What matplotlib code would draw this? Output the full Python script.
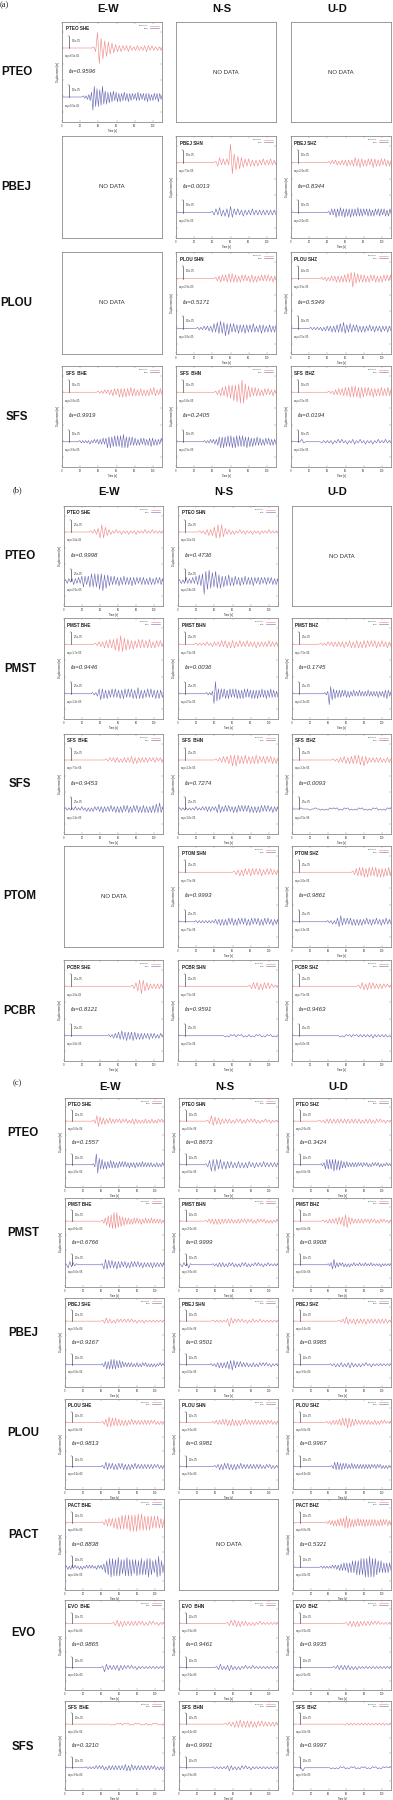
import numpy as np
import matplotlib
matplotlib.use("Agg")
import matplotlib.pyplot as plt

W, H = 393, 1800
plt.rcParams['font.family'] = ['Liberation Sans', 'DejaVu Sans']

components = ["E-W", "N-S", "U-D"]
section_labels = ["(a)", "(b)", "(c)"]

# ---------------- (a) ----------------
a_stations = ["PTEO", "PBEJ", "PLOU", "SFS"]
a_channels = [["PTEO SHE", None, None],
              [None, "PBEJ SHN", "PBEJ SHZ"],
              [None, "PLOU SHN", "PLOU SHZ"],
              ["SFS  BHE", "SFS  BHN", "SFS  BHZ"]]
a_fa = [[0.9596, None, None],
        [None, 0.0013, 0.8344],
        [None, 0.5171, 0.5349],
        [0.9919, 0.2405, 0.0194]]
a_scale = 5.0e-05
# trace: (onset time [s], half period [s], half-cycle peak amplitudes in tenths of scale bar)
a_syn = {
    "PTEO SHE": (33, 2.0, [1, 3, 13, 13, 8, 9, 6, 7, 5, 5, 4, 4, 3, 3, 2, 3, 2, 2, 2, 3, 2, 2, 1, 2, 2, 2, 1, 2, 2, 3, 2, 2, 2, 2, 1, 2, 1, 2]),
    "PBEJ SHN": (42, 2.0, [1, 3, 4, 2, 3, 2, 3, 2, 15, 9, 7, 6, 5, 5, 4, 4, 3, 3, 3, 3, 2, 3, 2, 3, 2, 2, 3, 2, 2, 2, 3, 2, 2, 2]),
    "PBEJ SHZ": (40, 1.8, [1, 1, 2, 1, 2, 2, 1, 2, 2, 2, 2, 3, 2, 2, 2, 3, 4, 3, 3, 4, 3, 3, 2, 3, 3, 2, 3, 4, 3, 3, 2, 3, 3, 2, 3, 3, 2, 3, 2]),
    "PLOU SHN": (42, 1.8, [1, 2, 2, 3, 3, 2, 3, 3, 4, 3, 4, 3, 3, 3, 2, 3, 3, 2, 3, 2, 2, 3, 3, 3, 2, 3, 2, 2, 3, 2, 3, 2, 3, 2, 2, 3, 2, 2]),
    "PLOU SHZ": (32, 1.8, [1, 1, 1, 2, 1, 2, 2, 2, 2, 3, 2, 3, 2, 3, 3, 3, 4, 3, 5, 7, 5, 4, 4, 3, 3, 3, 3, 3, 2, 3, 3, 2, 3, 3, 2, 3, 2, 3, 3, 2, 3, 2, 3]),
    "SFS  BHE": (38, 1.8, [1, 1, 1, 1, 2, 1, 2, 2, 2, 3, 3, 2, 3, 4, 3, 4, 3, 4, 3, 3, 4, 3, 3, 3, 2, 3, 3, 3, 2, 3, 2, 3, 3, 2, 4, 3, 2, 2, 3, 2]),
    "SFS  BHN": (42, 1.8, [1, 2, 2, 3, 4, 3, 5, 4, 6, 5, 6, 7, 6, 8, 7, 9, 10, 9, 7, 6, 5, 4, 4, 3, 4, 3, 3, 3, 2, 3, 3, 2, 3, 2, 2, 3, 2, 2]),
    "SFS  BHZ": (40, 1.8, [1, 1, 1, 2, 2, 2, 3, 2, 3, 3, 4, 3, 4, 4, 5, 4, 5, 4, 4, 5, 4, 4, 4, 3, 4, 3, 3, 4, 3, 3, 3, 3, 4, 3, 3, 3, 4, 3, 3]),
}
a_obs = {
    "PTEO SHE": (22, 1.5, [1, 1, 1, 2, 2, 3, 4, 11, 9, 8, 7, 8, 6, 7, 9, 6, 5, 6, 4, 5, 4, 4, 5, 3, 4, 4, 3, 4, 3, 3, 4, 3, 3, 4, 3, 3, 3, 2, 3, 3, 4, 3, 3, 2, 3, 3, 3, 4, 3, 3, 2, 3, 3, 2, 3, 4, 3, 2, 2]),
    "PBEJ SHN": (38, 2.0, [1, 2, 3, 2, 4, 3, 2, 3, 3, 4, 5, 4, 3, 2, 3, 2, 2, 3, 2, 2, 2, 2, 3, 2, 2, 2, 2, 2, 2, 2, 2, 2, 2, 2, 2, 2]),
    "PBEJ SHZ": (40, 1.6, [1, 2, 3, 2, 3, 4, 3, 3, 4, 3, 3, 4, 3, 3, 3, 4, 3, 3, 3, 3, 4, 3, 3, 3, 3, 2, 3, 3, 3, 3, 2, 3, 3, 2, 3, 3, 3, 2, 3, 3, 2, 3, 3, 2]),
    "PLOU SHN": (22, 1.8, [1, 1, 1, 1, 2, 1, 2, 2, 2, 3, 4, 3, 5, 4, 6, 4, 5, 6, 4, 5, 4, 3, 4, 3, 3, 4, 3, 3, 3, 4, 3, 3, 3, 3, 4, 3, 2, 3, 3, 4, 3, 3, 2, 3, 3, 3, 2, 3, 3]),
    "PLOU SHZ": (20, 1.8, [1, 1, 1, 1, 1, 1, 1, 2, 1, 2, 2, 2, 2, 3, 2, 3, 3, 3, 4, 3, 5, 4, 3, 3, 4, 3, 3, 2, 3, 3, 2, 3, 2, 3, 2, 2, 3, 2, 2, 3, 2, 2, 2, 3, 2, 2, 2, 3, 2, 2]),
    "SFS  BHE": (18, 1.6, [1, 1, 1, 1, 1, 1, 1, 2, 1, 1, 2, 1, 2, 2, 2, 2, 3, 2, 3, 5, 4, 5, 4, 4, 5, 4, 5, 4, 5, 5, 6, 5, 4, 5, 4, 3, 4, 3, 3, 3, 2, 3, 3, 2, 3, 3, 2, 3, 3, 4, 3, 3, 2, 3, 2, 2, 3, 2]),
    "SFS  BHN": (30, 1.6, [1, 1, 1, 1, 2, 1, 2, 2, 2, 3, 4, 5, 4, 5, 4, 4, 5, 4, 5, 5, 4, 5, 5, 4, 5, 4, 5, 4, 4, 5, 4, 4, 3, 4, 3, 3, 4, 3, 3, 3, 2, 3, 3, 2, 3, 3, 2, 3, 2, 2]),
    "SFS  BHZ": (10, 2.0, [2, 1, 0, 0, 0, 0, 0, 0, 0, 0, 0, 1, 1, 1, 1, 1, 1, 2, 1, 1, 2, 1, 2, 1, 1, 2, 1, 1, 2, 2, 1, 1, 2, 1, 1, 2, 1, 1, 1, 2, 1, 1, 2, 1, 1, 1, 2, 1, 1, 1]),
}

# ---------------- (b) ----------------
b_stations = ["PTEO", "PMST", "SFS", "PTOM", "PCBR"]
b_channels = [["PTEO SHE", "PTEO SHN", None],
              ["PMST BHE", "PMST BHN", "PMST BHZ"],
              ["SFS  BHE", "SFS  BHN", "SFS  BHZ"],
              [None, "PTOM SHN", "PTOM SHZ"],
              ["PCBR SHE", "PCBR SHN", "PCBR SHZ"]]
b_fa = [[0.9998, 0.4736, None],
        [0.9446, 0.0036, 0.1745],
        [0.9453, 0.7274, 0.0093],
        [None, 0.9993, 0.9861],
        [0.8121, 0.9591, 0.9463]]
b_scale = 2.5e-05
b_syn = {
    "PTEO SHE": (28, 2.0, [1, 1, 2, 2, 3, 5, 6, 5, 4, 3, 2, 2, 1, 1, 2, 1, 1, 2, 1, 1, 1, 2, 1, 1, 1, 2, 1, 1, 1, 1, 2, 1, 1, 1, 2, 1, 1, 1, 1, 1, 1, 1]),
    "PTEO SHN": (22, 2.0, [1, 1, 1, 2, 2, 3, 2, 3, 4, 5, 6, 5, 6, 4, 3, 2, 2, 2, 1, 2, 1, 1, 2, 1, 1, 2, 1, 1, 1, 2, 1, 1, 1, 2, 1, 1, 1, 1, 2, 1, 1, 1, 1, 1]),
    "PMST BHE": (33, 2.0, [1, 1, 2, 2, 2, 3, 3, 3, 4, 3, 4, 5, 5, 6, 7, 6, 5, 5, 4, 4, 3, 4, 3, 3, 4, 3, 4, 3, 3, 3, 4, 3, 2, 3, 3, 2, 3, 2, 2]),
    "PMST BHN": (18, 2.0, [1, 1, 1, 1, 1, 1, 2, 1, 1, 2, 2, 1, 2, 2, 3, 2, 3, 3, 2, 3, 3, 3, 2, 2, 3, 2, 2, 2, 3, 2, 2, 2, 2, 3, 2, 2, 2, 2, 2, 2, 3, 2, 2, 2, 2, 2]),
    "PMST BHZ": (30, 2.0, [1, 1, 1, 1, 2, 1, 2, 2, 2, 2, 2, 2, 2, 3, 2, 2, 3, 3, 2, 3, 3, 3, 2, 3, 3, 3, 3, 2, 3, 2, 3, 3, 2, 2, 3, 2, 2, 3, 2, 2]),
    "SFS  BHE": (45, 2.0, [1, 1, 2, 1, 2, 2, 2, 2, 1, 2, 2, 2, 2, 2, 3, 3, 2, 3, 2, 2, 2, 2, 2, 2, 2, 1, 2, 2, 2, 1, 2, 2, 2]),
    "SFS  BHN": (40, 2.0, [1, 1, 2, 2, 3, 2, 3, 3, 4, 5, 4, 5, 4, 3, 3, 3, 4, 3, 3, 3, 3, 3, 4, 3, 3, 2, 3, 3, 3, 2, 3, 3, 2, 3, 2, 2]),
    "SFS  BHZ": (44, 2.0, [1, 1, 1, 2, 2, 2, 3, 3, 2, 3, 3, 3, 4, 3, 4, 4, 3, 5, 3, 3, 2, 2, 2, 2, 2, 2, 2, 2, 1, 2, 2, 2, 1]),
    "PTOM SHN": (60, 2.0, [1, 2, 2, 3, 2, 3, 3, 2, 3, 3, 3, 2, 3, 2, 3, 3, 2, 2, 3, 2, 3, 2, 2, 2, 2]),
    "PTOM SHZ": (66, 1.8, [1, 2, 3, 3, 4, 3, 4, 4, 3, 4, 4, 3, 4, 3, 4, 4, 3, 4, 3, 4, 3, 3, 4, 3]),
    "PCBR SHE": (74, 2.0, [1, 2, 3, 4, 5, 6, 5, 4, 3, 3, 2, 2, 2, 2, 2, 2, 2, 2]),
    "PCBR SHN": (77, 2.0, [1, 2, 3, 2, 3, 3, 2, 3, 3, 2, 3, 2, 2, 1, 1, 1, 1]),
    "PCBR SHZ": (72, 2.0, [1, 2, 3, 3, 2, 3, 3, 2, 3, 2, 2, 2, 2, 2, 2, 1, 2, 1, 1]),
}
b_obs = {
    "PTEO SHE": (0, 1.8, [1, 2, 2, 1, 2, 3, 2, 2, 3, 2, 4, 5, 4, 3, 4, 5, 6, 5, 6, 5, 6, 7, 6, 8, 5, 6, 5, 4, 4, 3, 4, 3, 3, 4, 3, 3, 4, 3, 3, 3, 3, 4, 3, 3, 3, 2, 3, 3, 3, 3, 2, 3, 3, 3, 2, 3, 3, 2, 3, 3, 2]),
    "PTEO SHN": (0, 1.8, [1, 2, 1, 2, 3, 2, 2, 2, 3, 2, 4, 3, 5, 4, 6, 11, 8, 7, 9, 6, 7, 5, 8, 6, 5, 6, 4, 5, 4, 4, 5, 4, 3, 4, 4, 3, 3, 4, 3, 3, 4, 3, 3, 3, 3, 4, 3, 2, 3, 3, 3, 2, 3, 3, 3, 2, 3, 3, 2, 3, 2]),
    "PMST BHE": (30, 1.8, [1, 1, 1, 2, 4, 5, 4, 4, 3, 4, 3, 3, 4, 3, 4, 3, 3, 4, 3, 4, 4, 3, 4, 3, 4, 4, 3, 4, 5, 4, 3, 4, 3, 3, 4, 3, 4, 3, 3, 4, 3, 4, 3, 3, 2]),
    "PMST BHN": (30, 1.6, [1, 1, 1, 1, 2, 8, 10, 6, 4, 5, 4, 3, 4, 4, 3, 4, 4, 3, 4, 3, 4, 4, 3, 4, 3, 4, 4, 3, 4, 3, 3, 4, 3, 4, 3, 4, 3, 3, 4, 3, 3, 4, 3, 3, 4, 3, 3, 3, 2, 3]),
    "PMST BHZ": (35, 1.6, [1, 1, 2, 9, 6, 5, 4, 4, 3, 3, 3, 3, 3, 2, 3, 3, 2, 3, 2, 2, 3, 2, 2, 2, 3, 2, 2, 2, 2, 2, 3, 2, 2, 2, 2, 2, 2, 3, 2, 2, 2, 3, 3, 4, 3, 2, 2]),
    "SFS  BHE": (0, 1.8, [1, 1, 1, 1, 1, 1, 2, 1, 1, 1, 2, 1, 1, 2, 1, 2, 1, 2, 2, 1, 2, 2, 2, 3, 2, 2, 2, 2, 3, 2, 2, 3, 2, 3, 2, 3, 3, 2, 3, 3, 2, 3, 3, 2, 3, 3, 2, 3, 3, 3, 2, 3, 2, 3, 3, 3, 4, 3, 5, 3, 2]),
    "SFS  BHN": (0, 1.8, [1, 1, 1, 1, 1, 1, 1, 1, 1, 1, 2, 1, 1, 1, 2, 1, 2, 2, 2, 2, 2, 1, 2, 3, 4, 3, 2, 2, 3, 2, 3, 2, 2, 3, 2, 3, 3, 2, 3, 2, 3, 2, 3, 3, 2, 3, 2, 3, 2, 3, 3, 2, 3, 2, 3, 2, 2, 3, 2, 2, 2]),
    "SFS  BHZ": (0, 2.0, [0, 0, 0, 0, 1, 0, 0, 0, 0, 1, 0, 0, 1, 0, 0, 1, 0, 1, 0, 1, 1, 0, 1, 0, 1, 1, 0, 1, 1, 0, 1, 1, 0, 1, 0, 1, 1, 0, 1, 1, 0, 1, 0, 1, 1, 0, 1, 1, 0, 1, 0, 1, 1, 0, 1]),
    "PTOM SHN": (18, 1.8, [1, 1, 1, 1, 1, 1, 1, 1, 1, 1, 1, 1, 2, 2, 2, 3, 2, 3, 2, 3, 3, 2, 3, 3, 2, 3, 3, 2, 3, 2, 3, 3, 2, 3, 3, 2, 3, 2, 3, 3, 2, 3, 3, 2, 3, 2, 2, 3, 2, 2, 2]),
    "PTOM SHZ": (38, 1.8, [1, 1, 1, 2, 1, 2, 3, 4, 5, 3, 3, 2, 3, 2, 3, 3, 2, 3, 2, 3, 2, 3, 2, 2, 3, 2, 2, 3, 2, 2, 3, 2, 2, 3, 2, 2, 3, 2, 2, 2]),
    "PCBR SHE": (48, 1.8, [1, 1, 1, 2, 2, 2, 3, 3, 4, 3, 3, 4, 3, 3, 3, 4, 3, 3, 2, 3, 2, 3, 2, 2, 2, 3, 2, 2, 2, 2, 1, 2, 2, 1, 2]),
    "PCBR SHN": (48, 2.0, [0, 1, 0, 1, 1, 0, 1, 1, 1, 0, 1, 1, 0, 1, 1, 1, 0, 1, 1, 0, 1, 1, 0, 1, 1, 0, 1, 1, 0, 1, 0]),
    "PCBR SHZ": (50, 2.0, [0, 1, 0, 1, 1, 0, 1, 1, 1, 0, 1, 1, 1, 1, 1, 1, 1, 1, 1, 2, 1, 1, 1, 1, 1, 1, 1, 1, 0, 1]),
}

# ---------------- (c) ----------------
c_stations = ["PTEO", "PMST", "PBEJ", "PLOU", "PACT", "EVO", "SFS"]
c_channels = [["PTEO SHE", "PTEO SHN", "PTEO SHZ"],
              ["PMST BHE", "PMST BHN", "PMST BHZ"],
              ["PBEJ SHE", "PBEJ SHN", "PBEJ SHZ"],
              ["PLOU SHE", "PLOU SHN", "PLOU SHZ"],
              ["PACT BHE", None, "PACT BHZ"],
              ["EVO  BHE", "EVO  BHN", "EVO  BHZ"],
              ["SFS  BHE", "SFS  BHN", "SFS  BHZ"]]
c_fa = [[0.1557, 0.8673, 0.3424],
        [0.6766, 0.9999, 0.9908],
        [0.9167, 0.9501, 0.9985],
        [0.9813, 0.9981, 0.9967],
        [0.8838, None, 0.5321],
        [0.9865, 0.9461, 0.9935],
        [0.3210, 0.9991, 0.9997]]
c_scale = 1.0e-05
c_syn = {
    "PTEO SHE": (30, 1.8, [1, 2, 5, 5, 4, 3, 3, 3, 2, 2, 3, 2, 2, 2, 2, 1, 2, 2, 2, 1, 2, 2, 1, 2, 2, 3, 2, 2, 1, 2, 1, 2, 2, 2, 1, 2, 2, 2, 1, 2, 2, 1, 2, 1, 1]),
    "PTEO SHN": (30, 2.0, [1, 2, 5, 4, 4, 3, 3, 3, 2, 2, 2, 2, 2, 2, 1, 2, 2, 1, 2, 2, 1, 2, 2, 1, 2, 1, 2, 2, 1, 2, 1, 1, 2, 1, 1, 2, 1, 1, 1, 1]),
    "PTEO SHZ": (28, 2.0, [1, 1, 1, 2, 2, 2, 2, 2, 2, 2, 2, 2, 2, 2, 2, 2, 2, 2, 2, 2, 2, 2, 2, 2, 1, 2, 2, 2, 2, 2, 1, 2, 2, 1, 2, 1, 1, 2, 1, 1, 1]),
    "PMST BHE": (40, 1.6, [1, 2, 3, 4, 5, 6, 6, 7, 8, 7, 8, 6, 5, 5, 4, 4, 3, 3, 3, 3, 2, 3, 3, 2, 3, 2, 2, 3, 2, 2, 3, 2, 2, 2, 3, 2, 2, 2, 2, 2, 2, 2, 1, 2]),
    "PMST BHN": (28, 1.8, [1, 1, 2, 2, 2, 3, 2, 3, 2, 3, 2, 2, 2, 2, 2, 2, 2, 2, 1, 2, 2, 2, 2, 1, 2, 2, 2, 1, 2, 2, 1, 2, 2, 1, 2, 1, 2, 2, 1, 2, 1, 2, 1, 1, 2, 1]),
    "PMST BHZ": (32, 1.8, [1, 1, 1, 2, 2, 2, 2, 2, 3, 3, 4, 3, 4, 5, 6, 6, 4, 3, 3, 2, 2, 2, 2, 2, 2, 2, 2, 1, 2, 2, 2, 1, 2, 2, 1, 2, 2, 1, 2, 1, 1, 2, 1, 1]),
    "PBEJ SHE": (40, 2.0, [1, 2, 3, 2, 2, 2, 1, 2, 2, 1, 2, 1, 2, 1, 2, 1, 2, 1, 1, 2, 1, 1, 1, 2, 1, 1, 1, 1, 1, 1, 1, 1, 1, 1, 1]),
    "PBEJ SHN": (36, 2.0, [1, 1, 1, 1, 1, 1, 1, 1, 2, 5, 3, 2, 2, 1, 2, 1, 2, 1, 1, 2, 1, 1, 2, 1, 1, 1, 2, 1, 1, 1, 1, 1, 1, 1, 1, 1, 1]),
    "PBEJ SHZ": (50, 2.0, [1, 1, 2, 2, 4, 3, 2, 2, 2, 3, 2, 2, 2, 2, 2, 3, 2, 2, 2, 2, 2, 2, 2, 2, 2, 2, 2, 2, 1, 1]),
    "PLOU SHE": (40, 1.8, [1, 2, 3, 4, 5, 4, 4, 3, 4, 3, 3, 3, 2, 3, 2, 3, 2, 2, 3, 2, 2, 2, 2, 2, 2, 2, 2, 2, 2, 2, 2, 1, 2, 2, 1, 2, 1, 2, 1]),
    "PLOU SHN": (36, 1.8, [1, 1, 2, 2, 2, 2, 3, 2, 3, 3, 2, 3, 3, 3, 2, 3, 2, 3, 2, 2, 3, 2, 2, 2, 2, 2, 2, 2, 2, 2, 2, 2, 2, 2, 2, 1, 2, 2, 1, 2, 1]),
    "PLOU SHZ": (36, 1.8, [1, 1, 1, 2, 2, 2, 2, 2, 3, 3, 4, 3, 4, 5, 4, 4, 3, 3, 3, 2, 2, 2, 2, 2, 2, 2, 2, 2, 1, 2, 2, 2, 1, 2, 2, 1, 2, 1, 1, 1, 1]),
    "PACT BHE": (40, 1.8, [1, 2, 3, 3, 4, 3, 4, 5, 4, 6, 5, 6, 7, 6, 7, 6, 7, 8, 7, 8, 7, 8, 8, 7, 8, 7, 6, 7, 6, 7, 6, 5, 6, 5, 6, 5, 4, 5, 4]),
    "PACT BHZ": (36, 1.6, [1, 1, 2, 2, 2, 3, 2, 3, 3, 3, 4, 3, 4, 5, 6, 5, 4, 4, 3, 4, 3, 3, 4, 3, 3, 3, 3, 4, 3, 3, 3, 3, 3, 3, 3, 3, 2, 3, 3, 3, 3, 2, 3, 3, 2, 2]),
    "EVO  BHE": (52, 2.0, [1, 2, 3, 3, 2, 3, 2, 2, 2, 2, 2, 2, 2, 2, 2, 1, 2, 2, 1, 2, 2, 1, 2, 1, 1, 2, 1, 1, 1]),
    "EVO  BHN": (52, 2.0, [1, 2, 3, 2, 3, 3, 2, 3, 2, 2, 2, 2, 1, 2, 1, 2, 1, 1, 2, 1, 1, 1, 1, 1, 1, 1, 1, 1, 1]),
    "EVO  BHZ": (58, 2.0, [1, 2, 2, 3, 2, 3, 2, 3, 2, 2, 2, 2, 2, 2, 2, 1, 2, 1, 2, 1, 1, 1, 1, 1, 1, 1]),
    "SFS  BHE": (48, 2.0, [0, 1, 0, 1, 1, 0, 1, 1, 1, 0, 1, 1, 0, 1, 1, 0, 1, 1, 0, 1, 1, 1, 0, 1, 1, 0, 1, 1, 0, 1, 0]),
    "SFS  BHN": (50, 2.0, [1, 1, 2, 2, 2, 3, 3, 3, 4, 3, 3, 3, 3, 3, 3, 3, 2, 3, 3, 2, 3, 2, 2, 2, 2, 2, 2, 2, 2, 1]),
    "SFS  BHZ": (55, 2.0, [0, 1, 1, 1, 1, 1, 1, 1, 1, 1, 1, 1, 1, 1, 1, 1, 1, 1, 1, 1, 1, 1, 1, 1, 1, 1, 1, 1]),
}
c_obs = {
    "PTEO SHE": (30, 1.6, [1, 2, 10, 8, 6, 4, 5, 4, 3, 4, 3, 3, 4, 3, 3, 3, 2, 3, 3, 2, 3, 2, 3, 2, 2, 3, 2, 2, 2, 3, 2, 2, 2, 2, 3, 2, 2, 2, 2, 2, 2, 2, 1, 2, 2, 2, 1, 2, 2, 1]),
    "PTEO SHN": (28, 2.0, [1, 2, 4, 6, 5, 6, 5, 4, 5, 4, 3, 4, 3, 3, 3, 3, 2, 3, 3, 3, 2, 3, 2, 3, 3, 2, 2, 3, 2, 2, 2, 2, 3, 2, 2, 2, 2, 2, 2, 2, 2]),
    "PTEO SHZ": (30, 1.6, [1, 1, 2, 4, 5, 4, 5, 4, 5, 6, 5, 5, 4, 5, 4, 3, 3, 3, 3, 2, 2, 2, 2, 2, 2, 2, 2, 1, 2, 2, 2, 1, 2, 2, 1, 2, 2, 1, 2, 1, 2, 2, 1, 2, 1, 1, 2, 1, 1, 1]),
    "PMST BHE": (0, 1.8, [0, 3, 3, 2, 2, 1, 1, 0, 0, 0, 0, 0, 0, 0, 0, 0, 0, 0, 0, 0, 0, 0, 1, 4, 5, 4, 4, 3, 4, 3, 3, 4, 3, 3, 3, 2, 3, 3, 2, 3, 3, 2, 3, 2, 3, 2, 2, 3, 2, 2, 2, 2, 2, 3, 2, 2, 2, 2, 2, 2, 2]),
    "PMST BHN": (0, 1.8, [0, 2, 2, 1, 1, 3, 1, 0, 0, 0, 0, 0, 0, 0, 0, 0, 0, 0, 0, 0, 1, 1, 1, 2, 2, 2, 2, 2, 1, 2, 2, 1, 2, 2, 1, 2, 1, 2, 2, 1, 2, 2, 1, 2, 1, 1, 2, 1, 2, 1, 1, 2, 1, 1, 2, 1, 1, 1, 1, 1, 1]),
    "PMST BHZ": (38, 1.6, [1, 1, 2, 4, 5, 3, 2, 2, 2, 1, 2, 2, 1, 2, 1, 2, 1, 1, 2, 1, 1, 1, 2, 1, 1, 1, 2, 1, 1, 1, 2, 1, 1, 1, 1, 1, 1, 2, 1, 1, 1, 1, 1, 1, 1]),
    "PBEJ SHE": (40, 1.6, [1, 2, 3, 4, 3, 4, 5, 4, 5, 4, 4, 3, 4, 3, 3, 2, 2, 2, 2, 2, 2, 2, 1, 2, 2, 2, 1, 2, 2, 1, 2, 2, 1, 2, 1, 2, 1, 2, 1, 1, 2, 1, 1, 1]),
    "PBEJ SHN": (34, 1.8, [1, 1, 1, 2, 2, 3, 2, 3, 2, 3, 3, 4, 4, 5, 4, 3, 3, 2, 3, 2, 2, 2, 2, 2, 1, 2, 2, 2, 1, 2, 2, 1, 2, 1, 2, 1, 1, 2, 1, 1, 1, 1]),
    "PBEJ SHZ": (40, 2.0, [1, 1, 1, 2, 1, 2, 2, 2, 1, 2, 2, 3, 2, 2, 1, 2, 1, 2, 1, 1, 2, 1, 1, 2, 1, 1, 1, 1, 1, 1, 1, 1, 1, 1, 1]),
    "PLOU SHE": (40, 1.8, [1, 2, 4, 3, 3, 2, 3, 3, 2, 3, 3, 2, 3, 3, 2, 3, 2, 3, 2, 2, 3, 2, 2, 2, 2, 2, 2, 2, 2, 2, 2, 2, 2, 1, 2, 2, 1, 2, 1]),
    "PLOU SHN": (38, 1.8, [1, 1, 2, 3, 2, 3, 3, 2, 3, 3, 2, 3, 2, 3, 2, 2, 3, 2, 2, 2, 2, 2, 2, 2, 2, 2, 2, 2, 2, 2, 1, 2, 2, 1, 2, 2, 1, 2, 1, 1]),
    "PLOU SHZ": (42, 1.6, [1, 2, 4, 3, 4, 3, 3, 3, 3, 2, 3, 2, 2, 2, 3, 2, 2, 2, 2, 2, 2, 2, 2, 2, 2, 2, 2, 2, 2, 1, 2, 2, 2, 1, 2, 2, 1, 2, 1, 2, 1, 1, 1]),
    "PACT BHE": (0, 1.6, [1, 2, 1, 2, 2, 1, 2, 1, 1, 2, 1, 2, 1, 1, 2, 1, 2, 1, 2, 1, 1, 2, 2, 1, 2, 2, 3, 5, 6, 7, 8, 9, 8, 8, 7, 8, 9, 8, 7, 6, 7, 8, 9, 8, 7, 8, 7, 6, 7, 8, 6, 7, 8, 7, 6, 7, 8, 9, 8, 7, 6, 5, 7, 9, 10, 8, 6, 5, 4]),
    "PACT BHZ": (30, 1.6, [1, 1, 1, 1, 1, 1, 1, 1, 2, 1, 2, 2, 2, 3, 3, 3, 4, 3, 4, 5, 4, 5, 6, 5, 6, 7, 6, 7, 8, 7, 8, 9, 8, 9, 10, 9, 8, 9, 8, 7, 6, 5, 6, 5, 4, 5, 4, 5, 4, 3]),
    "EVO  BHE": (40, 2.0, [1, 4, 3, 2, 2, 2, 2, 2, 2, 3, 2, 2, 2, 1, 2, 1, 2, 1, 1, 2, 1, 1, 1, 1, 1, 1, 1, 1, 1, 1, 1, 1, 1, 1, 1]),
    "EVO  BHN": (40, 2.0, [1, 2, 3, 2, 1, 2, 2, 3, 2, 2, 1, 2, 1, 2, 1, 1, 2, 1, 1, 1, 2, 1, 1, 1, 1, 1, 1, 1, 1, 1, 1, 1, 1, 1, 1]),
    "EVO  BHZ": (44, 2.0, [1, 1, 2, 2, 2, 2, 2, 2, 2, 2, 1, 2, 1, 2, 1, 1, 1, 1, 1, 1, 1, 1, 1, 1, 1, 1, 1, 1, 1, 1, 1, 1, 1]),
    "SFS  BHE": (22, 1.8, [1, 1, 1, 1, 1, 1, 2, 1, 2, 1, 2, 2, 1, 2, 2, 2, 2, 2, 2, 2, 2, 2, 2, 2, 3, 3, 2, 3, 3, 2, 2, 2, 2, 2, 2, 2, 2, 2, 2, 2, 2, 1, 2, 2, 1, 2, 1, 2, 1]),
    "SFS  BHN": (36, 2.0, [1, 1, 1, 1, 1, 1, 1, 1, 2, 3, 2, 2, 1, 2, 1, 2, 2, 1, 2, 1, 1, 2, 1, 1, 1, 1, 1, 1, 1, 1, 1, 1, 1, 1, 1, 1, 1]),
    "SFS  BHZ": (7, 2.0, [0, 3, 0, 0, 0, 0, 0, 0, 0, 0, 0, 0, 0, 0, 0, 0, 0, 1, 0, 1, 0, 1, 1, 0, 1, 1, 0, 1, 1, 0, 1, 1, 0, 1, 1, 0, 1, 1, 0, 1, 1, 0, 1, 1, 0, 1, 1, 0, 1, 0, 1, 0]),
}

# ---------------- layout (pixels, top-left origin) ----------------
a_cols = [(62, 162), (176, 276), (291, 391)]
a_rows = [(22, 122), (136, 238), (252, 354), (366, 467)]
b_cols = [(64, 163), (178, 278), (292, 391)]
b_rows = [(506, 606), (618, 719), (734, 834), (846, 947), (960, 1061)]
c_cols = [(65, 164), (179, 278), (293, 391)]
c_rows = [(1098, 1187), (1198, 1287), (1298, 1387), (1399, 1489), (1499, 1590), (1600, 1690), (1701, 1790)]

RED = '#f08888'
BLUE = '#6868b4'
EDGE = '#8c8c8c'
TXT = '#333333'
BAR = 0.12
TMAX = 110

fig = plt.figure(figsize=(W / 100, H / 100), dpi=100)


def rect(x0, y0, x1, y1):
    return [x0 / W, 1 - y1 / H, (x1 - x0) / W, (y1 - y0) / H]


def fig_text(x, y, s, **kw):
    fig.text(x / W, 1 - y / H, s, **kw)


def style_box(ax):
    for sp in ax.spines.values():
        sp.set_color(EDGE)
        sp.set_linewidth(0.6)


def draw_trace(ax, trace, base, color, scale):
    t0, dt, vals = trace
    t = [0, t0]
    y = [base, base]
    for k, v in enumerate(vals):
        t.append(t0 + dt * (k + 1))
        y.append(base + (1 if k % 2 == 0 else -1) * v / 10 * BAR)
    if t[-1] < TMAX:
        t.append(TMAX)
        y.append(base)
    ax.plot(t, y, color=color, lw=0.42)
    ax.plot([7.5, 7.5], [base, base + BAR], color='#222222', lw=0.4)
    ax.plot([6.8, 8.2], [base + BAR, base + BAR], color='#222222', lw=0.3)
    ax.text(10.5, base + BAR * 0.62, f"{scale:.1e}", fontsize=1.9, color=TXT, va='center')
    amp = max(vals) / 10 * scale
    ax.text(3.5, base - 0.085, f"amp={amp:.1e}", fontsize=1.9, color=TXT, va='center')


def draw_panel(r, title, fa, syn, obs, scale):
    ax = fig.add_axes(r)
    style_box(ax)
    ax.set_xlim(0, TMAX)
    ax.set_ylim(0, 1)
    if title is None:
        ax.set_xticks([])
        ax.set_yticks([])
        ax.text(0.5, 0.5, "NO DATA", transform=ax.transAxes, ha='center', va='center',
                fontsize=4.3, color=TXT)
        return
    ax.set_xticks([0, 20, 40, 60, 80, 100])
    ax.set_yticks([0.1, 0.26, 0.42, 0.58, 0.74, 0.9])
    ax.tick_params(direction='in', length=1.2, width=0.3, colors=EDGE, labelsize=1.8,
                   labelcolor=TXT, pad=1.2, top=True, right=True, labelleft=False)
    ax.set_xlabel("Time [s]", fontsize=1.9, color=TXT, labelpad=0.8)
    ax.set_ylabel("Displacement [m]", fontsize=1.9, color=TXT, labelpad=1.5)
    draw_trace(ax, syn, 0.74, RED, scale)
    draw_trace(ax, obs, 0.25, BLUE, scale)
    ax.text(0.035, 0.93, title, transform=ax.transAxes, fontsize=3.3, fontweight='bold',
            color='#222222', va='center', ha='left')
    ax.text(0.07, 0.505, f"fa={fa:.4f}", transform=ax.transAxes, fontsize=4.4,
            style='italic', color=TXT, va='center', ha='left')
    # legend
    ax.text(0.86, 0.965, "synthetic", transform=ax.transAxes, fontsize=1.6, color=TXT,
            ha='right', va='center')
    ax.text(0.86, 0.94, "data", transform=ax.transAxes, fontsize=1.6, color=TXT,
            ha='right', va='center')
    ax.plot([0.88, 0.97], [0.965, 0.965], transform=ax.transAxes, color=RED, lw=0.4)
    ax.plot([0.88, 0.97], [0.94, 0.94], transform=ax.transAxes, color=BLUE, lw=0.4)


sections = [
    (a_stations, a_channels, a_fa, a_syn, a_obs, a_scale, a_cols, a_rows),
    (b_stations, b_channels, b_fa, b_syn, b_obs, b_scale, b_cols, b_rows),
    (c_stations, c_channels, c_fa, c_syn, c_obs, c_scale, c_cols, c_rows),
]
section_label_pos = [(0, 5.5), (13, 490), (13, 1083)]
header_y = [8.5, 492, 1087]
station_x = [16.5, 20, 23]
station_dy = [[0, 0, 0, 0], [0, 0, 0, 0, 0], [-9, -10, -10, -11, -10, -12, 2]]

for si, (stations, channels, fas, syn, obs, scale, cols, rows) in enumerate(sections):
    lx, ly = section_label_pos[si]
    fig_text(lx, ly, section_labels[si], fontsize=6, family='Liberation Serif',
             ha='left', va='center', color='#222222')
    for ci, comp in enumerate(components):
        cx = (cols[ci][0] + cols[ci][1]) / 2 - 4
        fig_text(cx, header_y[si], comp, fontsize=8, fontweight='bold', ha='center',
                 va='center', color='#111111')
    for ri, st in enumerate(stations):
        y0, y1 = rows[ri]
        fig_text(station_x[si], (y0 + y1) / 2 + station_dy[si][ri], st, fontsize=8.3,
                 fontweight='bold', ha='center', va='center', color='#111111')
        for ci in range(3):
            x0, x1 = cols[ci]
            name = channels[ri][ci]
            if name is None:
                draw_panel(rect(x0, y0, x1, y1), None, None, None, None, scale)
            else:
                draw_panel(rect(x0, y0, x1, y1), name, fas[ri][ci], syn[name], obs[name], scale)

fig.savefig("out.png", dpi=100)
